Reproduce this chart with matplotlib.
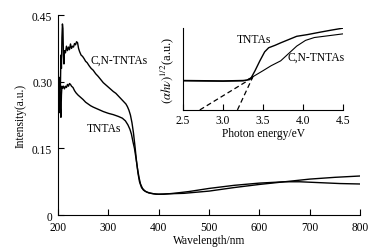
import matplotlib
matplotlib.use("Agg")
import matplotlib.pyplot as plt

plt.rcParams['font.family'] = ['Liberation Serif', 'DejaVu Serif']
plt.rcParams['mathtext.fontset'] = 'stix'
plt.rcParams['font.size'] = 8.3

# main spectra (wavelength / nm, intensity / a.u.)
cn_wl = [200, 202, 203, 204, 205, 206, 207, 208, 209, 210, 211, 212, 213, 215, 217,
         219, 221, 223, 225, 227, 229, 231, 233, 235, 237, 239, 241, 243, 246, 249,
         252, 255, 258, 262, 266, 270, 275, 280, 285, 290, 295, 300, 305, 310, 315,
         320, 325, 330, 335, 338, 341, 344, 347, 350, 353, 356, 359, 362, 366, 370,
         376, 385, 395, 410, 430, 460, 500, 550, 600, 650, 680, 720, 760, 800]
cn_int = [0.23, 0.27, 0.25, 0.31, 0.29, 0.36, 0.33, 0.40, 0.43, 0.42, 0.36, 0.34, 0.37,
          0.365, 0.38, 0.37, 0.378, 0.372, 0.385, 0.375, 0.38, 0.378, 0.386, 0.383, 0.39,
          0.388, 0.375, 0.368, 0.36, 0.357, 0.352, 0.346, 0.343, 0.336, 0.33, 0.326,
          0.318, 0.312, 0.305, 0.298, 0.293, 0.288, 0.283, 0.278, 0.274, 0.268, 0.262,
          0.256, 0.25, 0.244, 0.236, 0.225, 0.208, 0.185, 0.155, 0.122, 0.094, 0.075,
          0.062, 0.056, 0.052, 0.049, 0.047, 0.047, 0.049, 0.053, 0.06, 0.067, 0.072,
          0.075, 0.075, 0.073, 0.071, 0.07]

tn_wl = [200, 201, 202, 203, 204, 205, 206, 207, 208, 209, 211, 213, 215, 217, 219,
         221, 223, 225, 227, 230, 233, 236, 240, 245, 250, 255, 260, 265, 270, 280,
         290, 300, 310, 320, 328, 334, 339, 343, 346, 349, 352, 355, 358, 361, 364,
         368, 373, 380, 390, 400, 420, 450, 500, 550, 600, 650, 700, 750, 800]
tn_int = [0.21, 0.25, 0.23, 0.28, 0.30, 0.24, 0.22, 0.27, 0.29, 0.285, 0.29, 0.284,
          0.29, 0.287, 0.294, 0.29, 0.296, 0.294, 0.29, 0.287, 0.28, 0.275, 0.27,
          0.265, 0.26, 0.254, 0.25, 0.246, 0.243, 0.238, 0.233, 0.229, 0.226, 0.222,
          0.218, 0.212, 0.203, 0.193, 0.182, 0.165, 0.15, 0.128, 0.105, 0.085, 0.07,
          0.06, 0.054, 0.05, 0.048, 0.047, 0.048, 0.049, 0.054, 0.062, 0.069, 0.075,
          0.081, 0.085, 0.088]

# inset Tauc plot (photon energy / eV)
tn_ev = [2.5, 3.0, 3.25, 3.3, 3.35, 3.4, 3.46, 3.52, 3.57, 3.65, 3.72, 3.82, 3.92,
         4.05, 4.21, 4.35, 4.5]
tn_tauc = [0.36, 0.355, 0.36, 0.365, 0.39, 0.48, 0.6, 0.71, 0.76, 0.79, 0.82, 0.86,
           0.9, 0.92, 0.95, 0.975, 1.0]
cn_ev = [2.5, 3.0, 3.25, 3.3, 3.38, 3.5, 3.6, 3.72, 3.82, 3.92, 4.03, 4.14, 4.3, 4.5]
cn_tauc = [0.355, 0.35, 0.355, 0.365, 0.41, 0.48, 0.54, 0.60, 0.69, 0.78, 0.85,
           0.885, 0.905, 0.93]
fit1_ev = [2.71, 3.38]
fit1_y = [0.0, 0.40]
fit2_ev = [3.18, 3.38]
fit2_y = [0.0, 0.42]

fig = plt.figure(figsize=(3.86, 2.51), dpi=100)
ax = fig.add_axes([0.150, 0.139, 0.783, 0.797])
ax.plot(cn_wl, cn_int, color='black', lw=1.0)
ax.plot(tn_wl, tn_int, color='black', lw=1.0)
ax.set_xlim(200, 800)
ax.set_ylim(0, 0.45)
ax.set_xticks([200, 300, 400, 500, 600, 700, 800])
ax.set_yticks([0, 0.15, 0.30, 0.45])
ax.set_yticklabels(['0', '0.15', '0.30', '0.45'])
ax.tick_params(direction='in', length=4, width=0.8, pad=4)
for s in ['top', 'right']:
    ax.spines[s].set_visible(False)
ax.set_xlabel('Wavelength/nm', labelpad=1)
ax.set_ylabel('Intensity(a.u.)', labelpad=4)
ax.text(264, 0.349, 'C,N-TNTAs', ha='left', va='center')
ax.text(258, 0.196, 'TNTAs', ha='left', va='center')

ins = fig.add_axes([0.474, 0.558, 0.415, 0.326])
ins.plot(tn_ev, tn_tauc, color='black', lw=1.0)
ins.plot(cn_ev, cn_tauc, color='black', lw=0.8)
ins.plot(fit1_ev, fit1_y, color='black', lw=0.9, ls=(0, (4, 2.5)))
ins.plot(fit2_ev, fit2_y, color='black', lw=0.9, ls=(0, (4, 2.5)))
ins.set_xlim(2.5, 4.5)
ins.set_ylim(0, 1.0)
ins.set_xticks([2.5, 3.0, 3.5, 4.0, 4.5])
ins.set_yticks([])
ins.tick_params(direction='in', length=4, width=0.8, pad=3)
for s in ['top', 'right']:
    ins.spines[s].set_visible(False)
ins.set_xlabel('Photon energy/eV', labelpad=1)
ins.set_ylabel(r'$(\alpha h\nu)^{1/2}$(a.u.)', labelpad=5, fontsize=9)
ins.text(3.17, 0.87, 'TNTAs', ha='left', va='center')
ins.text(3.8, 0.65, 'C,N-TNTAs', ha='left', va='center')

plt.savefig('out.png', dpi=100)
